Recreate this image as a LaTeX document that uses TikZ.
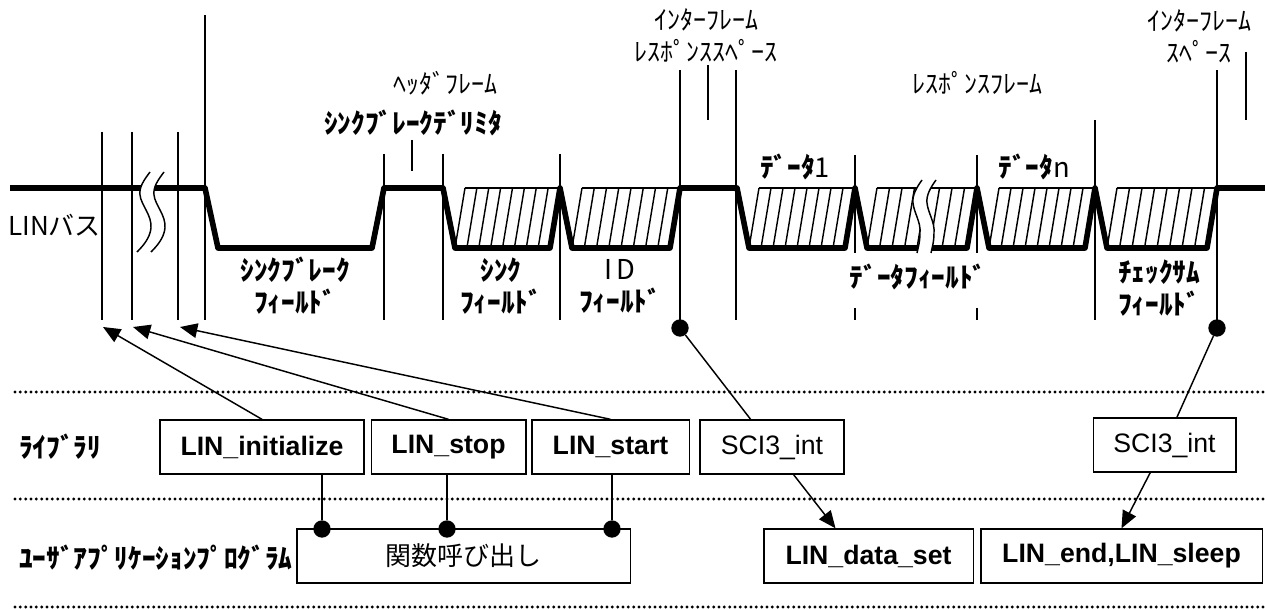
\documentclass[tikz,border=0pt]{standalone}
\usepackage{fontspec}
\setmainfont{Liberation Sans}
\newfontfamily\jp{Noto Sans CJK JP}
\usetikzlibrary{arrows.meta,positioning}

\begin{document}
\begin{tikzpicture}[x=0.75pt,y=-0.75pt,>={Triangle[length=13pt,width=11pt]}]
  \tikzstyle{wave}=[line width=4.2pt,line join=round]
  \tikzstyle{hatch}=[line width=1.1pt]
  \tikzstyle{guide}=[line width=1.1pt]
  \tikzstyle{sep}=[line width=2.4pt,line cap=round,dash pattern=on 0pt off 4pt]
  \tikzstyle{func}=[draw,line width=1pt,fill=white,inner sep=0pt,minimum height=40.5pt,
                    font=\fontsize{20}{24}\selectfont]
  \tikzstyle{dot}=[circle,fill=black,inner sep=0pt,minimum size=13pt]
  \tikzstyle{lbl}=[align=center,inner sep=0pt,font=\jp\bfseries\fontsize{20.5}{24}\selectfont]
  \tikzstyle{hdr}=[align=center,inner sep=0pt,font=\jp\fontsize{19.5}{24}\selectfont]
  \tikzstyle{conn}=[line width=1.1pt]

  \useasboundingbox (0,0) rectangle (1265,609);

  % field borders and ticks
  \foreach \x/\ya/\yb in {102/132/320, 132/132/320, 178/132/320, 205/15/320,
                          384/154/320, 443/154/320, 412/140/171, 560/154/320,
                          680/70/328, 736/70/320, 708/65/120, 855/155/253,
                          855/308/320, 977/155/253, 977/308/320, 1095/120/320,
                          1217/70/328, 1246/52/120}
    \draw[guide] (\x,\ya) -- (\x,\yb);

  % LIN bus level
  \draw[wave] (10,188) -- (205,188) -- (218,248) -- (372,248) -- (384,188)
    \foreach \a/\b in {443/560, 560/680, 737/855, 855/977, 977/1095, 1095/1217}
      { -- (\a,188) -- (\a+12,248) -- (\b-10,248) -- (\b,188) }
    -- (1265,188);

  % hatched bytes
  \foreach \a/\b in {443/560, 560/680, 737/855, 855/977, 977/1095, 1095/1217} {
    \draw[hatch] (\a+22,188) -- (\b,188);
    \foreach \k in {0,...,7}
      \draw[hatch] ({\a+12+\k*(\b-\a-22)/8},248) -- ++(10,-60);
  }

  % breaks
  \fill[white] (150,172) .. controls (144,180) and (139,187) .. (140,195)
    .. controls (141,205) and (152,215) .. (151,228)
    .. controls (150,238) and (143,246) .. (137,252) -- (151,252)
    .. controls (157,246) and (164,238) .. (165,228)
    .. controls (166,215) and (155,205) .. (154,195)
    .. controls (153,187) and (158,180) .. (164,172) -- cycle;
  \foreach \s in {0,14}
    \draw[hatch,xshift=\s*0.75pt] (150,172) .. controls (144,180) and (139,187) .. (140,195)
      .. controls (141,205) and (152,215) .. (151,228)
      .. controls (150,238) and (143,246) .. (137,252);
  \fill[white] (922,180) .. controls (917,187) and (912,195) .. (913,203)
    .. controls (914,213) and (921,222) .. (920,233)
    .. controls (920,242) and (918,248) .. (917,253) -- (931,253)
    .. controls (932,248) and (934,242) .. (934,233)
    .. controls (935,222) and (928,213) .. (927,203)
    .. controls (926,195) and (931,187) .. (936,180) -- cycle;
  \foreach \s in {0,14}
    \draw[hatch,xshift=\s*0.75pt] (922,180) .. controls (917,187) and (912,195) .. (913,203)
      .. controls (914,213) and (921,222) .. (920,233)
      .. controls (920,242) and (918,248) .. (917,253);

  % frame labels
  \foreach \x/\y/\txt [count=\i] in {445/83/ﾍｯﾀﾞﾌﾚｰﾑ, 706/35/ｲﾝﾀｰﾌﾚｰﾑ\\ﾚｽﾎﾟﾝｽｽﾍﾟｰｽ,
                                     977/83/ﾚｽﾎﾟﾝｽﾌﾚｰﾑ, 1199/36/ｲﾝﾀｰﾌﾚｰﾑ\\ｽﾍﾟｰｽ}
    \node[hdr] (hd-\i) at (\x,\y) {\txt};
  \foreach \x/\y/\txt [count=\i] in {413/123/ﾌﾞ, 295/286/ｼﾝｸﾌﾞﾚｰｸ\\ﾌｨｰﾙﾄﾞ,
                                     501/286/ｼﾝｸ\\ﾌｨｰﾙﾄﾞ, 918/277/ﾃﾞｰﾀﾌｨｰﾙﾄﾞ,
                                     1159/288/ﾁｪｯｸｻﾑ\\ﾌｨｰﾙﾄﾞ}
    \node[lbl] (fd-\i) at (\x,\y) {\ifnum\i=1 ｼﾝｸﾌﾞﾚｰｸﾃﾞﾘﾐﾀ\else\txt\fi};
  \node[lbl] (id) at (620,286) {{\mdseries I\,D}\\ﾌｨｰﾙﾄﾞ};
  \node[lbl] (d-1) at (795,167) {ﾃﾞｰﾀ{\mdseries 1}};
  \node[lbl] (d-n) at (1034,167) {ﾃﾞｰﾀ{\mdseries n}};
  \node[hdr,anchor=west] (bus) at (8,225) {LINバス};

  % layers
  \foreach \y in {392,499,607}
    \draw[sep] (15,\y) -- (1265,\y);
  \node[lbl,anchor=west] (lib) at (19,447) {ﾗｲﾌﾞﾗﾘ};
  \node[lbl,anchor=west] (app) at (19,558) {ﾕｰｻﾞｱﾌﾟﾘｹｰｼｮﾝﾌﾟﾛｸﾞﾗﾑ};

  % functions
  \node[func,minimum width=153pt] (init) at (262,447) {\textbf{LIN\_initialize}};
  \node[func,minimum width=116pt] (stop) at (448.5,447) {\textbf{LIN\_stop}};
  \node[func,minimum width=118pt] (start) at (610.5,447) {\textbf{LIN\_start}};
  \node[func,minimum width=108pt] (sci-1) at (772,447) {SCI3\_int};
  \node[func,minimum width=107pt] (sci-2) at (1164.5,445) {SCI3\_int};
  \node[func,minimum width=250pt,font=\jp\fontsize{19.5}{24}\selectfont] (call) at (463.5,556) {関数呼び出し};
  \node[func,minimum width=157pt] (dset) at (868.5,556) {\textbf{LIN\_data\_set}};
  \node[func,minimum width=211pt] (fin) at (1121.5,556) {\textbf{LIN\_end,LIN\_sleep}};

  % calls from the application
  \foreach \name/\x in {1/322, 2/447, 3/612}
    \node[dot] (cd-\name) at (\x,529) {};
  \foreach \from/\to in {init/1, stop/2, start/3}
    \draw[conn] (\from.south -| cd-\to) -- (cd-\to);
  \foreach \name/\x in {1/103, 2/133, 3/180}
    \coordinate (mk-\name) at (\x,327);
  \foreach \from/\to in {init/1, stop/2, start/3}
    \draw[conn,->] (\from.north) -- (mk-\to);

  % interrupts
  \node[dot] (sp-1) at (680,328) {};
  \node[dot] (sp-2) at (1217,328) {};
  \draw[conn] (sp-1) -- (sci-1);
  \draw[conn,->] (sci-1) -- (dset.140);
  \draw[conn] (sp-2) -- (sci-2);
  \draw[conn,->] (sci-2) -- (fin.north);
\end{tikzpicture}
\end{document}
